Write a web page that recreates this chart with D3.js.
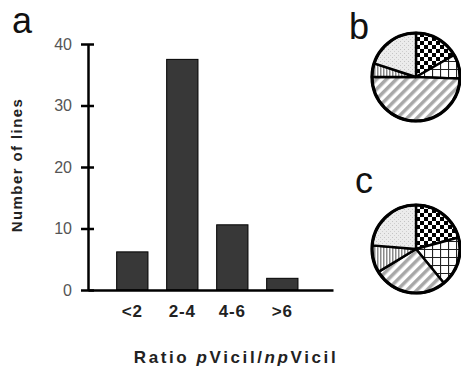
<!DOCTYPE html>
<html>
<head>
<meta charset="utf-8">
<script src="https://cdn.jsdelivr.net/npm/d3@7"></script>
<style>
  body { margin: 0; background: #fff; }
  svg { display: block; font-family: Arial, "Liberation Sans", sans-serif; }
</style>
</head>
<body>
<svg id="chart" width="461" height="369"></svg>
<script>
// bar chart data (panel a)
var categories = ["<2", "2-4", "4-6", ">6"];
var lineCounts = [6.2, 37.5, 10.6, 1.9];
var yTicks = [0, 10, 20, 30, 40];

// pie data (panels b and c), clockwise from top, in percent
var sliceFills = ["checker", "grid", "diag", "vert", "stipple"];
var pieB = [16.7, 8.9, 49.4, 5.0, 20.0];
var pieC = [20.8, 18.3, 27.2, 10.0, 23.7];

var svg = d3.select("#chart");

// ---- patterns ----
var defs = svg.append("defs");

var checker = defs.append("pattern").attr("id", "checker")
    .attr("patternUnits", "userSpaceOnUse").attr("width", 8).attr("height", 8);
checker.append("rect").attr("width", 8).attr("height", 8).attr("fill", "#fff");
checker.append("rect").attr("width", 4).attr("height", 4).attr("fill", "#000");
checker.append("rect").attr("x", 4).attr("y", 4).attr("width", 4).attr("height", 4).attr("fill", "#000");

var grid = defs.append("pattern").attr("id", "grid")
    .attr("patternUnits", "userSpaceOnUse").attr("width", 8).attr("height", 8);
grid.append("rect").attr("width", 8).attr("height", 8).attr("fill", "#fff");
grid.append("path").attr("d", "M0,0.5H8M0.5,0V8").attr("stroke", "#222").attr("stroke-width", 1.2);

var diag = defs.append("pattern").attr("id", "diag")
    .attr("patternUnits", "userSpaceOnUse").attr("width", 7).attr("height", 7)
    .attr("patternTransform", "rotate(45)");
diag.append("rect").attr("width", 7).attr("height", 7).attr("fill", "#fff");
diag.append("rect").attr("width", 3.5).attr("height", 7).attr("fill", "#a8a8a8");

var vert = defs.append("pattern").attr("id", "vert")
    .attr("patternUnits", "userSpaceOnUse").attr("width", 3).attr("height", 3);
vert.append("rect").attr("width", 3).attr("height", 3).attr("fill", "#fff");
vert.append("rect").attr("width", 1.5).attr("height", 3).attr("fill", "#8a8a8a");

var stipple = defs.append("pattern").attr("id", "stipple")
    .attr("patternUnits", "userSpaceOnUse").attr("width", 4).attr("height", 4);
stipple.append("rect").attr("width", 4).attr("height", 4).attr("fill", "#ececec");
stipple.append("rect").attr("x", 0).attr("y", 0).attr("width", 1).attr("height", 1).attr("fill", "#c4c4c4");
stipple.append("rect").attr("x", 2).attr("y", 2).attr("width", 1).attr("height", 1).attr("fill", "#cfcfcf");

// ---- panel a: bar chart ----
var y = d3.scaleLinear().domain([0, 40]).range([290, 44]);
var x = d3.scaleBand().domain(categories)
    .range([88, 333])
    .paddingInner(0.374)
    .paddingOuter(0.637)
    .align(0.45);

svg.append("g").selectAll("rect")
    .data(lineCounts)
    .enter().append("rect")
      .attr("x", (d, i) => x(categories[i]))
      .attr("y", d => y(d))
      .attr("width", x.bandwidth())
      .attr("height", d => y(0) - y(d))
      .attr("fill", "#383838")
      .attr("stroke", "#000")
      .attr("stroke-width", 1);

var yAxis = svg.append("g")
    .attr("transform", "translate(88,0)")
    .call(d3.axisLeft(y).tickValues(yTicks).tickSize(7).tickSizeOuter(0).tickPadding(9));
yAxis.select(".domain").attr("stroke-width", 2.5);
yAxis.selectAll(".tick line").attr("x1", 6).attr("stroke-width", 2.5);
yAxis.selectAll(".tick text")
    .attr("font-size", 16)
    .attr("fill", "#555");

var xAxis = svg.append("g")
    .attr("transform", "translate(0,290)")
    .call(d3.axisBottom(x).tickSize(0).tickSizeOuter(0).tickPadding(15));
xAxis.select(".domain").attr("stroke-width", 2.5);
xAxis.selectAll(".tick text")
    .attr("font-size", 17)
    .attr("font-weight", "bold")
    .attr("letter-spacing", 0.8)
    .attr("fill", "#222");

svg.append("text")
    .attr("transform", "translate(22,165) rotate(-90)")
    .attr("text-anchor", "middle")
    .attr("font-size", 15)
    .attr("font-weight", "bold")
    .attr("letter-spacing", 1.4)
    .attr("fill", "#222")
    .text("Number of lines");

var xTitle = svg.append("text")
    .attr("x", 236)
    .attr("y", 363)
    .attr("text-anchor", "middle")
    .attr("font-size", 17)
    .attr("font-weight", "bold")
    .attr("letter-spacing", 2.6)
    .attr("fill", "#222");
xTitle.append("tspan").text("Ratio ");
xTitle.append("tspan").attr("font-style", "italic").text("p");
xTitle.append("tspan").text("Vicil/");
xTitle.append("tspan").attr("font-style", "italic").text("np");
xTitle.append("tspan").text("Vicil");

// ---- panels b and c: pies ----
var pie = d3.pie().sort(null).value(d => d);
var arc = d3.arc().innerRadius(0).outerRadius(44);

function drawPie(values, cx, cy) {
  var g = svg.append("g").attr("transform", "translate(" + cx + "," + cy + ")");
  g.selectAll("path")
      .data(pie(values))
      .enter().append("path")
        .attr("d", arc)
        .attr("fill", (d, i) => "url(#" + sliceFills[i] + ")")
        .attr("stroke", "#000")
        .attr("stroke-width", 2.4)
        .attr("stroke-linejoin", "round");
  g.append("circle")
      .attr("r", 44)
      .attr("fill", "none")
      .attr("stroke", "#000")
      .attr("stroke-width", 3.2);
}

drawPie(pieB, 416, 77);
drawPie(pieC, 416, 249);

// panel letters
var letters = [["a", 12, 33], ["b", 349, 39], ["c", 355, 193]];
svg.selectAll(".panel")
    .data(letters)
    .enter().append("text")
      .attr("class", "panel")
      .attr("x", d => d[1])
      .attr("y", d => d[2])
      .attr("font-size", 36)
      .attr("fill", "#111")
      .text(d => d[0]);
</script>
</body>
</html>
